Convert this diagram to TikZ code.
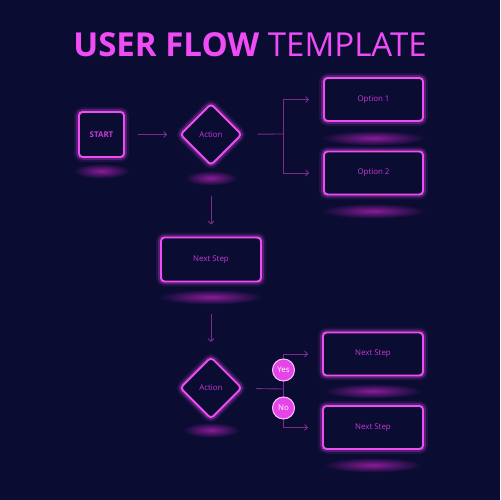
\documentclass[tikz,border=0pt]{standalone}
\usepackage{fontspec}
\setmainfont{Open Sans}
\usetikzlibrary{shapes.geometric, arrows.meta, positioning, calc}
\definecolor{night}{HTML}{0A0C32}
\definecolor{neon}{HTML}{F04CF5}
\definecolor{neonlabel}{HTML}{C83AD6}
\definecolor{wire}{HTML}{7C2C8E}
\definecolor{haze}{HTML}{8A1C98}
\tikzstyle{block} = [draw=neon, fill=night, rectangle, rounded corners=2pt, line width=1.1pt, text=neonlabel, font=\fontsize{4.5}{5}\selectfont, inner sep=0pt, preaction={draw=neon, line width=3.2pt, opacity=0.25}, preaction={draw=neon, line width=5.5pt, opacity=0.1}]
\tikzstyle{decision} = [block, diamond, minimum width=1.24cm, minimum height=1.24cm]
\tikzstyle{answer} = [circle, fill=neon!90!violet, draw=neon!35!white, line width=0.6pt, text=white, minimum size=0.44cm, inner sep=0pt, font=\fontsize{4.5}{5}\selectfont]
\tikzstyle{link} = [draw=wire, line width=0.5pt]

\begin{document}
\begin{tikzpicture}[x=0.02cm, y=-0.02cm, >={Straight Barb[length=1.6pt, width=3.4pt]}]
  \fill [night] (0,0) rectangle (500,500);
  \useasboundingbox (0,0) rectangle (500,500);
  \node [text=neon, font=\fontsize{18.8}{21}\selectfont] (title) at (250,45) {\textbf{USER FLOW} TEMPLATE};
  % shadows first, boxes on top
  \coordinate (start-c) at (101.5,134.5);
  \foreach \x/\y/\w in {101.5/171/26, 211/178/24, 373.5/138/48, 373.5/211/48, 211/297/48, 211/430/26, 373/391/45, 373/465/45}
    \shade [inner color=haze, outer color=night] (\x,\y) ellipse [x radius={\w*0.022cm}, y radius=0.15cm];
  \node [block, minimum width=0.9cm, minimum height=0.9cm, font=\fontsize{4.5}{5}\selectfont\bfseries] (start) at (start-c) {START};
  \node [decision, right of=start, node distance=2.19cm] (act1) {Action};
  \node [block, minimum width=1.98cm, minimum height=0.86cm] (opt1) at (373.5,99.5) {Option 1};
  \node [block, minimum width=1.98cm, minimum height=0.86cm, below of=opt1, node distance=1.47cm] (opt2) {Option 2};
  \node [block, minimum width=2cm, minimum height=0.88cm, below of=act1, node distance=2.5cm] (next) {Next Step};
  \node [decision, below of=next, node distance=2.57cm] (act2) {Action};
  \node [block, minimum width=2cm, minimum height=0.86cm] (step1) at (373,354) {Next Step};
  \node [block, minimum width=2cm, minimum height=0.86cm, below of=step1, node distance=1.47cm] (step2) {Next Step};
  \coordinate (fork1) at (283,134);
  \coordinate (fork2) at (283,389);
  \draw [link, ->, shorten <=0.26cm, shorten >=0.24cm] (start) -- (act1);
  \draw [link, shorten <=0.3cm] (act1) -- (fork1);
  \draw [link, ->, shorten >=0.28cm] (fork1) |- (opt1);
  \draw [link, ->, shorten >=0.28cm] (fork1) |- (opt2);
  \draw [link, ->, shorten <=0.6cm, shorten >=0.24cm] (act1) -- (next);
  \draw [link, ->, shorten <=0.64cm, shorten >=0.28cm] (next) -- (act2);
  \draw [link, shorten <=0.28cm] (act2) -- (fork2);
  \draw [link, ->, shorten >=0.28cm] (fork2) |- (step1);
  \draw [link, ->, shorten >=0.28cm] (fork2) |- (step2);
  \node [answer] (yes) at (283.5,370) {Yes};
  \node [answer] (no) at (283.5,408) {No};
\end{tikzpicture}
\end{document}
